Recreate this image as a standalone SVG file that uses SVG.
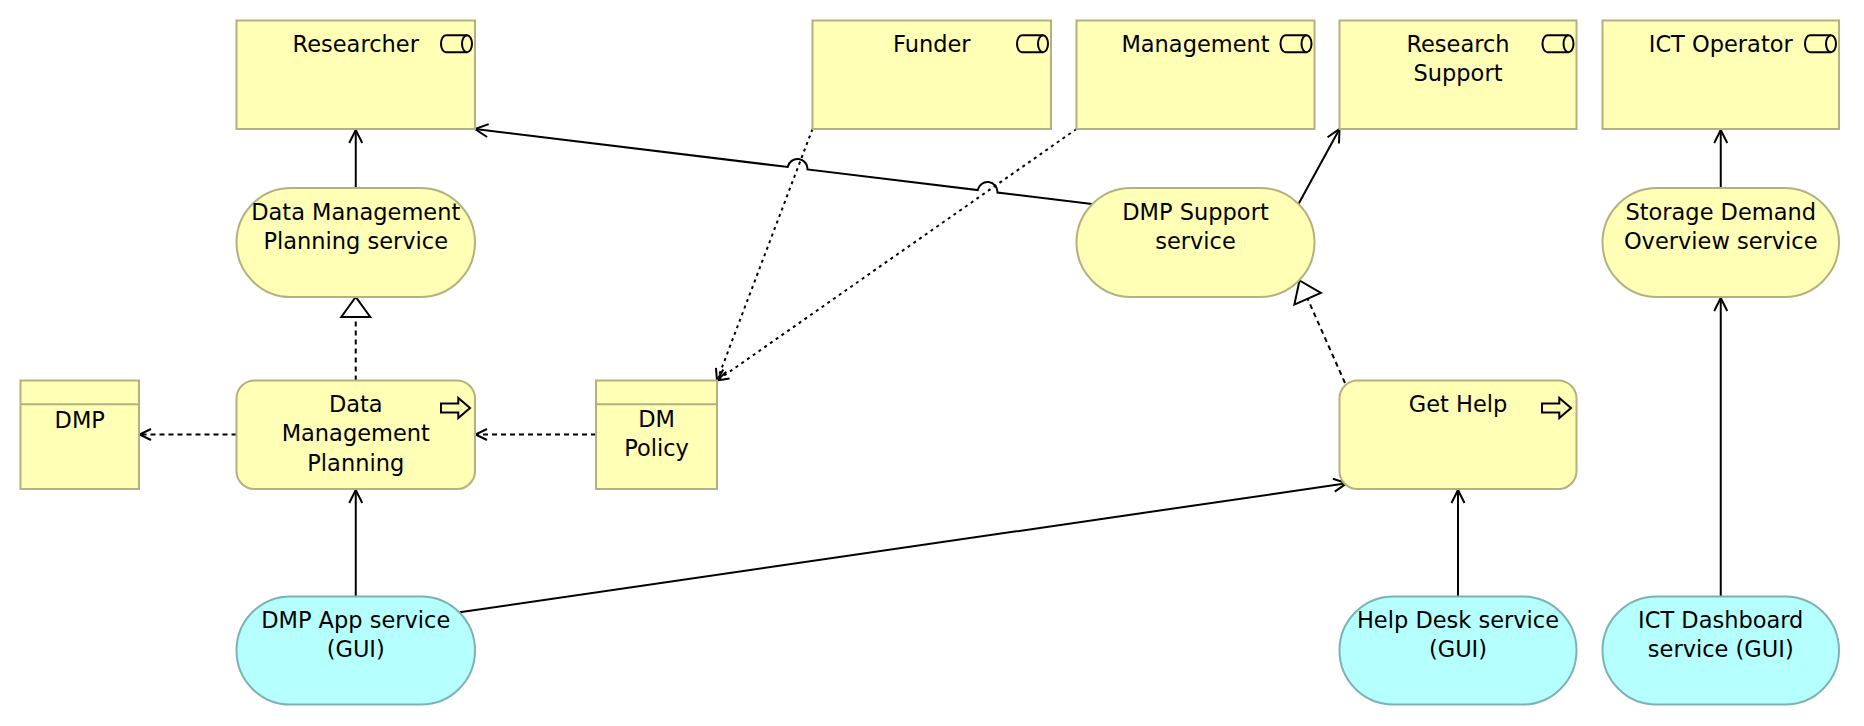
<svg xmlns="http://www.w3.org/2000/svg" width="1864" height="726" viewBox="0 0 1864 726">
<style>
.bus{fill:#FFFFB5;stroke:#B2B27E;stroke-width:2}
.app{fill:#B5FFFF;stroke:#7EB2B2;stroke-width:2}
.ico{fill:none;stroke:#000;stroke-width:2}
text{font-family:"DejaVu Sans","Liberation Sans",sans-serif;font-size:22.5px;fill:#000;text-anchor:middle}
.c{fill:none;stroke:#000;stroke-width:2}
.dash{stroke-dasharray:5 4}
.dot{stroke-dasharray:3 4}
</style>
<defs>
<marker id="serve" markerUnits="userSpaceOnUse" markerWidth="16" markerHeight="16" refX="14" refY="8" orient="auto" overflow="visible">
<path d="M1,1.5 L14,8 L1,14.5" fill="none" stroke="#000" stroke-width="2"/>
</marker>
<marker id="acc" markerUnits="userSpaceOnUse" markerWidth="14" markerHeight="16" refX="12.5" refY="8" orient="auto" overflow="visible">
<path d="M1,2.5 L12.5,8 L1,13.5" fill="none" stroke="#000" stroke-width="2"/>
</marker>
<marker id="real" markerUnits="userSpaceOnUse" markerWidth="24" markerHeight="32" refX="22" refY="16" orient="auto" overflow="visible">
<path d="M2,1.5 L22,16 L2,30.5 Z" fill="#fff" stroke="#000" stroke-width="2"/>
</marker>
</defs>
<rect width="1864" height="726" fill="#fff"/>

<g id="connectors">
<path class="c" d="M355.75,188 V130" marker-end="url(#serve)"/>
<path class="c" d="M1092,204 L997.5,192.5 A10,10 0 0 0 977.7,190.1 L807.5,169.4 A10,10 0 0 0 787.7,167 L475,129" marker-end="url(#serve)"/>
<path class="c" d="M1298.5,204 L1339.5,129" marker-end="url(#serve)"/>
<path class="c" d="M1720.75,188 V130" marker-end="url(#serve)"/>
<path class="c" d="M1720.75,596.5 V298" marker-end="url(#serve)"/>
<path class="c" d="M1458,596.5 V490" marker-end="url(#serve)"/>
<path class="c" d="M459.7,612.3 L1346.7,483.3" marker-end="url(#serve)"/>
<path class="c" d="M355.75,596.5 V490" marker-end="url(#serve)"/>
<path class="c dash" d="M355.75,380.5 V297" marker-end="url(#real)"/>
<path class="c dash" d="M1345,383 L1299.5,280.5" marker-end="url(#real)"/>
<path class="c dash" d="M236.5,434.5 H139.5" marker-end="url(#acc)"/>
<path class="c dash" d="M596,434.5 H475.5" marker-end="url(#acc)"/>
<path class="c dot" d="M812.5,129 L717,380.5" marker-end="url(#acc)"/>
<path class="c dot" d="M1076.5,129 L717,380.5" marker-end="url(#acc)"/>
</g>

<g id="researcher">
<rect class="bus" x="236.5" y="20.5" width="238.5" height="108.5"/>
<path class="ico" d="M467,14.7 H446 A5,8.5 0 0 0 446,31.7 H467" transform="translate(0,20.5)"/>
<ellipse class="ico" cx="467" cy="43.7" rx="5" ry="8.5"/>
<text x="355.75" y="51.5">Researcher</text>
</g>

<g id="funder">
<rect class="bus" x="812.5" y="20.5" width="238.5" height="108.5"/>
<path class="ico" d="M1043,35.2 H1022 A5,8.5 0 0 0 1022,52.2 H1043"/>
<ellipse class="ico" cx="1043" cy="43.7" rx="5" ry="8.5"/>
<text x="931.75" y="51.5">Funder</text>
</g>

<g id="management">
<rect class="bus" x="1076.5" y="20.5" width="238" height="108.5"/>
<path class="ico" d="M1306.5,35.2 H1285.5 A5,8.5 0 0 0 1285.5,52.2 H1306.5"/>
<ellipse class="ico" cx="1306.5" cy="43.7" rx="5" ry="8.5"/>
<text x="1195.5" y="51.5">Management</text>
</g>

<g id="research-support">
<rect class="bus" x="1339.5" y="20.5" width="237" height="108.5"/>
<path class="ico" d="M1568.5,35.2 H1547.5 A5,8.5 0 0 0 1547.5,52.2 H1568.5"/>
<ellipse class="ico" cx="1568.5" cy="43.7" rx="5" ry="8.5"/>
<text x="1458" y="51.5">Research</text>
<text x="1458" y="81">Support</text>
</g>

<g id="ict-operator">
<rect class="bus" x="1602.5" y="20.5" width="236.5" height="108.5"/>
<path class="ico" d="M1831,35.2 H1810 A5,8.5 0 0 0 1810,52.2 H1831"/>
<ellipse class="ico" cx="1831" cy="43.7" rx="5" ry="8.5"/>
<text x="1720.75" y="51.5">ICT Operator</text>
</g>

<g id="dmp-service">
<rect class="bus" x="236.5" y="188" width="238.5" height="109" rx="54.5" ry="54.5"/>
<text x="355.75" y="219.5">Data Management</text>
<text x="355.75" y="249">Planning service</text>
</g>

<g id="dmp-support-service">
<rect class="bus" x="1076.5" y="188" width="238" height="109" rx="54.5" ry="54.5"/>
<text x="1195.5" y="219.5">DMP Support</text>
<text x="1195.5" y="249">service</text>
</g>

<g id="storage-demand-service">
<rect class="bus" x="1602.5" y="188" width="236.5" height="109" rx="54.5" ry="54.5"/>
<text x="1720.75" y="219.5">Storage Demand</text>
<text x="1720.75" y="249">Overview service</text>
</g>

<g id="dmp-data">
<rect class="bus" x="20.5" y="380.5" width="118.5" height="108.5"/>
<line class="bus" x1="20.5" y1="404.3" x2="139" y2="404.3"/>
<text x="79.75" y="428">DMP</text>
</g>

<g id="dm-planning">
<rect class="bus" x="236.5" y="380.5" width="238.5" height="108.5" rx="18" ry="18"/>
<path class="ico" d="M441,403.5 H458.3 V398 L470,408 L458.3,418 V412.5 H441 Z"/>
<text x="355.75" y="411.5">Data</text>
<text x="355.75" y="441">Management</text>
<text x="355.75" y="470.5">Planning</text>
</g>

<g id="dm-policy">
<rect class="bus" x="596" y="380.5" width="121" height="108.5"/>
<line class="bus" x1="596" y1="404.3" x2="717" y2="404.3"/>
<text x="656.5" y="426.5">DM</text>
<text x="656.5" y="456">Policy</text>
</g>

<g id="get-help">
<rect class="bus" x="1339.5" y="380.5" width="237" height="108.5" rx="18" ry="18"/>
<path class="ico" d="M1542,403.5 H1559.3 V398 L1571,408 L1559.3,418 V412.5 H1542 Z"/>
<text x="1458" y="411.5">Get Help</text>
</g>

<g id="dmp-app-service">
<rect class="app" x="236.5" y="596.5" width="238.5" height="108" rx="54" ry="54"/>
<text x="355.75" y="627.5">DMP App service</text>
<text x="355.75" y="657">(GUI)</text>
</g>

<g id="help-desk-service">
<rect class="app" x="1339.5" y="596.5" width="237" height="108" rx="54" ry="54"/>
<text x="1458" y="627.5">Help Desk service</text>
<text x="1458" y="657">(GUI)</text>
</g>

<g id="ict-dashboard-service">
<rect class="app" x="1602.5" y="596.5" width="236.5" height="108" rx="54" ry="54"/>
<text x="1720.75" y="627.5">ICT Dashboard</text>
<text x="1720.75" y="657">service (GUI)</text>
</g>
</svg>
